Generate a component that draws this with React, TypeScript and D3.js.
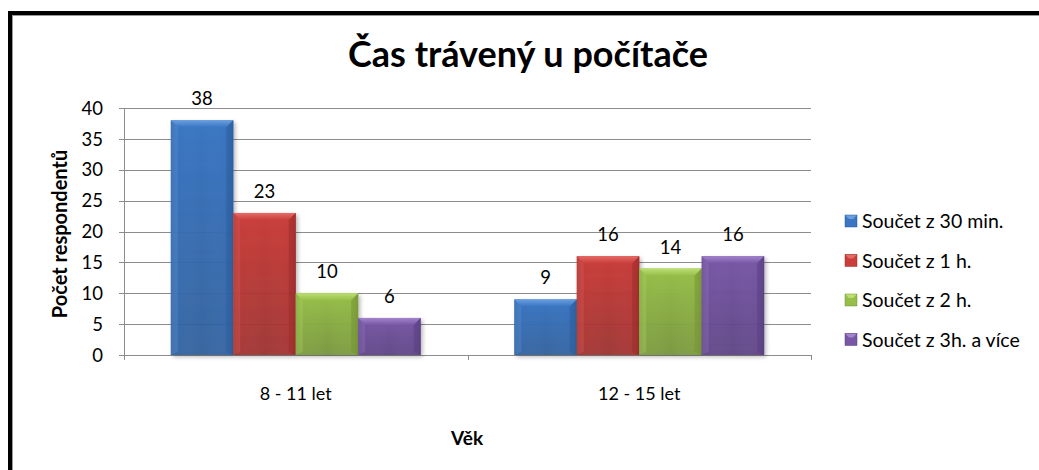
import React from "react";
import * as d3 from "d3";

const categories = ["8 - 11 let", "12 - 15 let"];
const seriesNames = ["Součet z 30 min.", "Součet z 1 h.", "Součet z 2 h.", "Součet z 3h. a více"];
const s30min = [38, 9];
const s1h = [23, 16];
const s2h = [10, 14];
const s3h = [6, 16];
const yTicks = [0, 5, 10, 15, 20, 25, 30, 35, 40];

const seriesValues = [s30min, s1h, s2h, s3h];
const colors = [
  { base: "#3a76c2", light: "#6a9fe0", dark: "#2b5b99" },
  { base: "#c93e3b", light: "#e56b67", dark: "#9a2c2a" },
  { base: "#97be49", light: "#bddf73", dark: "#739236" },
  { base: "#7858a6", light: "#a283cc", dark: "#583e80" },
];

const W = 1039, H = 470;
const plot = { left: 124, right: 811, top: 108, bottom: 355 };
const font = "Lato, 'Open Sans', sans-serif";

export default function App() {
  const y = d3.scaleLinear().domain([0, 40]).range([plot.bottom, plot.top]);
  const x0 = d3.scaleBand().domain(categories).range([plot.left, plot.right]).paddingInner(0).paddingOuter(0);
  const bw = x0.bandwidth();
  const groupW = bw * (4 / 5.5);
  const x1 = d3.scaleBand().domain(seriesNames).range([0, groupW]).padding(0);
  const b = 7;

  return (
    <svg width={W} height={H} style={{ position: "absolute", left: 0, top: 0, background: "#fff" }}>
      <defs>
        {colors.map((c, i) => (
          <linearGradient key={i} id={`g${i}`} x1="0" x2="1" y1="0" y2="0">
            <stop offset="0" stopColor={c.dark} />
            <stop offset="0.12" stopColor={c.base} stopOpacity="0.3" />
            <stop offset="0.5" stopColor={c.light} stopOpacity="0.0" />
            <stop offset="0.88" stopColor={c.base} stopOpacity="0.3" />
            <stop offset="1" stopColor={c.dark} />
          </linearGradient>
        ))}
        {colors.map((c, i) => (
          <linearGradient key={"v" + i} id={`v${i}`} x1="0" x2="0" y1="0" y2="1">
            <stop offset="0" stopColor={c.light} />
            <stop offset="1" stopColor={c.base} />
          </linearGradient>
        ))}
        {colors.map((c, i) => (
          <linearGradient key={"f" + i} id={`f${i}`} x1="0" x2="0" y1="0" y2="1">
            <stop offset="0" stopColor={c.base} />
            <stop offset="1" stopColor={c.dark} stopOpacity="0.9" />
          </linearGradient>
        ))}
        <filter id="sh" x="-10%" y="-10%" width="130%" height="130%">
          <feGaussianBlur in="SourceAlpha" stdDeviation="2" />
          <feOffset dx="2" dy="2" result="o" />
          <feComponentTransfer><feFuncA type="linear" slope="0.3" /></feComponentTransfer>
          <feMerge><feMergeNode /><feMergeNode in="SourceGraphic" /></feMerge>
        </filter>
      </defs>

      {/* frame */}
      <rect x={10} y={13} width={1100} height={600} fill="none" stroke="#000" strokeWidth={4} />
      <line x1={12.5} y1={15} x2={12.5} y2={470} stroke="#999" strokeWidth={1} />
      <line x1={12} y1={15.5} x2={1039} y2={15.5} stroke="#999" strokeWidth={1} />

      {/* title */}
      <text x={528} y={67} textAnchor="middle" fontFamily={font} fontWeight="bold" fontSize={36} fill="#000">
        Čas trávený u počítače
      </text>

      {/* gridlines */}
      {yTicks.map((t) => (
        <g key={t}>
          <line x1={plot.left - 5} x2={plot.right} y1={Math.round(y(t)) + 0.5} y2={Math.round(y(t)) + 0.5} stroke="#8c8c8c" strokeWidth={1} />
          <text x={103} y={y(t)} dy="0.36em" textAnchor="end" fontFamily={font} fontSize={18.5} fill="#000">{t}</text>
        </g>
      ))}
      <line x1={plot.left + 0.5} x2={plot.left + 0.5} y1={plot.top} y2={plot.bottom} stroke="#8c8c8c" />
      {[plot.left, plot.left + bw, plot.right].map((xx, i) => (
        <line key={i} x1={Math.round(xx) + 0.5} x2={Math.round(xx) + 0.5} y1={plot.bottom} y2={plot.bottom + 5} stroke="#8c8c8c" />
      ))}

      {/* bars */}
      {categories.map((cat, ci) => {
        const gx = (x0(cat) as number) + (bw - groupW) / 2;
        return (
          <g key={cat}>
            {seriesNames.map((sn, si) => {
              const v = seriesValues[si][ci];
              const bx = gx + (x1(sn) as number);
              const w = x1.bandwidth();
              const top = y(v);
              const h = plot.bottom - top;
              const c = colors[si];
              return (
                <g key={sn}>
                  <rect x={bx} y={top} width={w} height={h} fill={`url(#f${si})`} filter="url(#sh)" />
                  <rect x={bx} y={top} width={w} height={h} fill={`url(#g${si})`} opacity={0.6} />
                  <polygon points={`${bx},${top} ${bx + w},${top} ${bx + w - b},${top + b} ${bx + b},${top + b}`} fill={`url(#v${si})`} />
                  <polygon points={`${bx},${top} ${bx + b},${top + b} ${bx + b},${plot.bottom - 3} ${bx},${plot.bottom}`} fill={c.light} opacity={0.25} />
                  <polygon points={`${bx + w},${top} ${bx + w - b},${top + b} ${bx + w - b},${plot.bottom - 3} ${bx + w},${plot.bottom}`} fill={c.dark} opacity={0.5} />
                  <text x={bx + w / 2} y={top - 15} textAnchor="middle" fontFamily={font} fontSize={18.5} fill="#000">{v}</text>
                </g>
              );
            })}
            <text x={(x0(cat) as number) + bw / 2} y={400} textAnchor="middle" fontFamily={font} fontSize={18} fill="#000">{cat}</text>
          </g>
        );
      })}

      {/* axis titles */}
      <text x={467} y={445} textAnchor="middle" fontFamily={font} fontWeight="bold" fontSize={19} fill="#000">Věk</text>
      <text transform={`translate(67,${234}) rotate(-90)`} textAnchor="middle" fontFamily={font} fontWeight="bold" fontSize={20} fill="#000">
        Počet respondentů
      </text>

      {/* legend */}
      {seriesNames.map((sn, i) => {
        const ly = 221 + i * 39.5;
        const c = colors[i];
        return (
          <g key={sn}>
            <rect x={845} y={ly - 6} width={12} height={12} fill={c.base} />
            <polygon points={`845,${ly - 6} 857,${ly - 6} 853,${ly - 2} 849,${ly - 2}`} fill={c.light} />
            <rect x={845} y={ly - 6} width={12} height={12} fill="none" stroke={c.dark} strokeWidth={0.5} />
            <text x={862} y={ly} dy="0.36em" fontFamily={font} fontSize={19.5} fill="#000">{sn}</text>
          </g>
        );
      })}
    </svg>
  );
}
